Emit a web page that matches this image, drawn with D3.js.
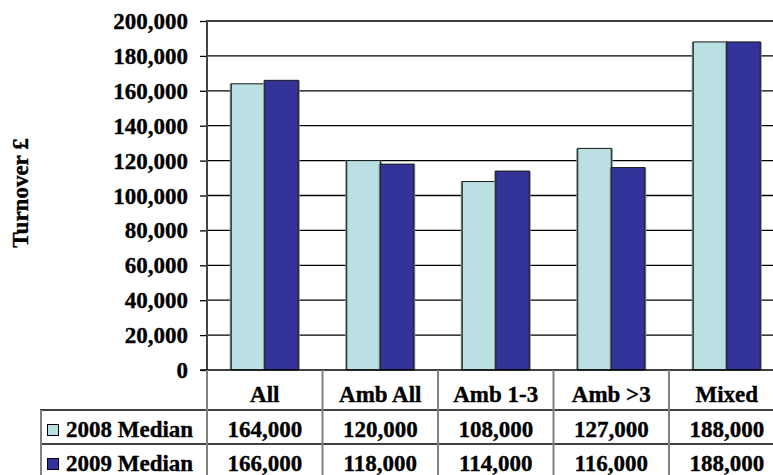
<!DOCTYPE html>
<html>
<head>
<meta charset="utf-8">
<script src="https://cdn.jsdelivr.net/npm/d3@7"></script>
<style>
  html, body { margin: 0; padding: 0; background: #fff; }
  svg { display: block; font-family: "Liberation Serif", "Times New Roman", serif; font-weight: bold; }
  svg text { stroke: #000; stroke-width: 0.35px; }
</style>
</head>
<body>
<svg id="chart" width="773" height="475"></svg>
<script>
// Median turnover by practice type, 2008 vs 2009
const categories = ["All", "Amb All", "Amb 1-3", "Amb >3", "Mixed"];
const seriesNames = ["2008 Median", "2009 Median"];
const median2008 = [164000, 120000, 108000, 127000, 188000];
const median2009 = [166000, 118000, 114000, 116000, 188000];
const yTicks = [0, 20000, 40000, 60000, 80000, 100000, 120000, 140000, 160000, 180000, 200000];
const seriesColors = ["#BBE0E3", "#333399"];

const seriesValues = [median2008, median2009];
const fmt = d3.format(",");

const svg = d3.select("#chart");
const fontSize = 23;

// plot frame
const plotLeft = 207, plotRight = 784.5, plotTop = 21, plotBottom = 370;

const y = d3.scaleLinear().domain([0, 200000]).range([plotBottom, plotTop]);
const x0 = d3.scaleBand().domain(categories).range([plotLeft, plotRight]).paddingInner(0).paddingOuter(0);
const bw = x0.bandwidth();
const x1 = d3.scaleBand().domain(seriesNames).range([bw * 0.21, bw * 0.79]).padding(0);

// horizontal gridlines
svg.append("g")
  .selectAll("line")
  .data(yTicks.filter(d => d > 0))
  .join("line")
  .attr("x1", plotLeft).attr("x2", 773)
  .attr("y1", d => y(d)).attr("y2", d => y(d))
  .attr("stroke", "#000").attr("stroke-width", 1.3);

// y axis
const yAxis = d3.axisLeft(y).tickValues(yTicks).tickSize(7).tickFormat(fmt);
const gy = svg.append("g").attr("transform", `translate(${plotLeft},0)`).call(yAxis);
gy.select(".domain").remove();
gy.selectAll(".tick line").attr("stroke", "#000").attr("stroke-width", 1.3);
gy.selectAll(".tick text")
  .attr("x", -19).attr("dy", null).attr("dominant-baseline", "central")
  .attr("font-size", fontSize).attr("font-family", "Liberation Serif, serif")
  .attr("font-weight", "bold").attr("fill", "#000");

// bars
const groups = svg.append("g")
  .selectAll("g")
  .data(categories)
  .join("g")
  .attr("transform", d => `translate(${x0(d)},0)`);

groups.selectAll("g.bar")
  .data((d, i) => seriesNames.map((s, j) => ({ s, j, v: seriesValues[j][i] })))
  .join("g")
  .attr("class", "bar")
  .each(function (d) {
    const g = d3.select(this);
    const bx = x1(d.s), w = x1.bandwidth();
    // soft grey edge shadow
    g.append("rect")
      .attr("x", bx - 1.5).attr("y", y(d.v))
      .attr("width", w + 3).attr("height", plotBottom - y(d.v))
      .attr("fill", "#7f8a8c");
    g.append("rect")
      .attr("x", bx).attr("y", y(d.v))
      .attr("width", w).attr("height", plotBottom - y(d.v))
      .attr("fill", seriesColors[d.j])
      .attr("stroke", "#1a1a1a").attr("stroke-width", 1);
  });

// y axis line
svg.append("line")
  .attr("x1", plotLeft).attr("x2", plotLeft).attr("y1", plotTop - 1).attr("y2", plotBottom)
  .attr("stroke", "#444").attr("stroke-width", 2);

// data table
const rowLines = [410, 444];
const table = svg.append("g");
table.append("line")
  .attr("x1", 200).attr("x2", 773).attr("y1", plotBottom).attr("y2", plotBottom)
  .attr("stroke", "#000").attr("stroke-width", 1.5);
rowLines.forEach(yy => {
  table.append("line")
    .attr("x1", 40).attr("x2", 773).attr("y1", yy).attr("y2", yy)
    .attr("stroke", "#000").attr("stroke-width", 1.5);
});
// vertical separators
table.selectAll("line.sep")
  .data(categories)
  .join("line")
  .attr("class", "sep")
  .attr("x1", d => x0(d)).attr("x2", d => x0(d))
  .attr("y1", plotBottom).attr("y2", 475)
  .attr("stroke", "#808080").attr("stroke-width", 2);
table.append("line")
  .attr("x1", 41).attr("x2", 41).attr("y1", rowLines[0]).attr("y2", 475)
  .attr("stroke", "#808080").attr("stroke-width", 2);

// category labels
table.selectAll("text.cat")
  .data(categories)
  .join("text")
  .attr("class", "cat")
  .attr("x", d => x0(d) + bw / 2).attr("y", 402)
  .attr("text-anchor", "middle").attr("font-size", fontSize)
  .text(d => d);

// value rows with legend keys
const rowBaselines = [437, 471];
seriesNames.forEach((s, j) => {
  table.append("rect")
    .attr("x", 47.5).attr("y", rowBaselines[j] - 12.5)
    .attr("width", 11).attr("height", 11)
    .attr("fill", seriesColors[j]).attr("stroke", "#000").attr("stroke-width", 1);
  table.append("text")
    .attr("x", 66).attr("y", rowBaselines[j])
    .attr("font-size", fontSize)
    .text(s);
  table.selectAll(null)
    .data(categories)
    .join("text")
    .attr("x", d => x0(d) + bw / 2).attr("y", rowBaselines[j])
    .attr("text-anchor", "middle").attr("font-size", fontSize)
    .text((d, i) => fmt(seriesValues[j][i]));
});

// y axis title
svg.append("text")
  .attr("transform", "translate(28,193) rotate(-90)")
  .attr("text-anchor", "middle").attr("font-size", fontSize)
  .text("Turnover £");
</script>
</body>
</html>
